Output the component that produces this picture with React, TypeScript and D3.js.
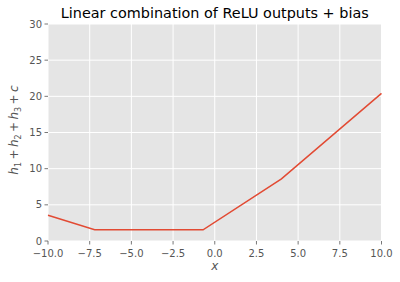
import React from "react";
import * as d3 from "d3";

const xs = [-10, -7.2, -0.7, 4.0, 10];
const ys = [3.55, 1.55, 1.55, 8.6, 20.4];
const xTicks = [-10, -7.5, -5, -2.5, 0, 2.5, 5, 7.5, 10];
const yTicks = [0, 5, 10, 15, 20, 25, 30];
const title = "Linear combination of ReLU outputs + bias";

const W = 400, H = 282;
const L = 48, R = 381.5, T = 24, B = 241;
const font = "DejaVu Sans, sans-serif";

const fmtX = (v: number) => (v < 0 ? "\u2212" : "") + Math.abs(v).toFixed(1);

export default function App() {
  const x = d3.scaleLinear().domain([-10, 10]).range([L, R]);
  const y = d3.scaleLinear().domain([0, 30]).range([B, T]);
  const pts: [number, number][] = xs.map((v, i) => [v, ys[i]]);
  const line = d3.line<[number, number]>().x(d => x(d[0])).y(d => y(d[1]));
  const plus = "\u2009+\u2009";
  return (
    <svg width={W} height={H} style={{ position: "absolute", left: 0, top: 0, background: "#fff" }}>
      <rect x={L} y={T} width={R - L} height={B - T} fill="#E5E5E5" />
      {xTicks.map(t => (
        <line key={"gx" + t} x1={x(t)} x2={x(t)} y1={T} y2={B} stroke="#fff" strokeWidth={1} />
      ))}
      {yTicks.map(t => (
        <line key={"gy" + t} x1={L} x2={R} y1={y(t)} y2={y(t)} stroke="#fff" strokeWidth={1} />
      ))}
      <path d={line(pts) || ""} fill="none" stroke="#E24A33" strokeWidth={1.5} />
      {xTicks.map(t => (
        <g key={"tx" + t}>
          <line x1={x(t)} x2={x(t)} y1={B} y2={B + 3.5} stroke="#555" strokeWidth={0.8} />
          <text x={x(t)} y={B + 16} textAnchor="middle" fontFamily={font} fontSize={10} fill="#555">
            {fmtX(t)}
          </text>
        </g>
      ))}
      {yTicks.map(t => (
        <g key={"ty" + t}>
          <line x1={L - 3.5} x2={L} y1={y(t)} y2={y(t)} stroke="#555" strokeWidth={0.8} />
          <text x={L - 6} y={y(t) + 3.5} textAnchor="end" fontFamily={font} fontSize={10} fill="#555">
            {t}
          </text>
        </g>
      ))}
      <text x={(L + R) / 2} y={18} textAnchor="middle" fontFamily={font} fontSize={14.4} fill="#000">
        {title}
      </text>
      <text x={(L + R) / 2} y={270} textAnchor="middle" fontFamily={font} fontSize={12} fontStyle="italic" fill="#555">
        x
      </text>
      <text
        transform={`translate(18, 130) rotate(-90)`}
        textAnchor="middle"
        fontFamily={font}
        fontSize={12}
        fill="#555"
      >
        <tspan fontStyle="italic">h</tspan>
        <tspan fontSize={8} dy={2.5}>1</tspan>
        <tspan dy={-2.5}>{plus}</tspan>
        <tspan fontStyle="italic">h</tspan>
        <tspan fontSize={8} dy={2.5}>2</tspan>
        <tspan dy={-2.5}>{plus}</tspan>
        <tspan fontStyle="italic">h</tspan>
        <tspan fontSize={8} dy={2.5}>3</tspan>
        <tspan dy={-2.5}>{plus}</tspan>
        <tspan fontStyle="italic">c</tspan>
      </text>
    </svg>
  );
}
